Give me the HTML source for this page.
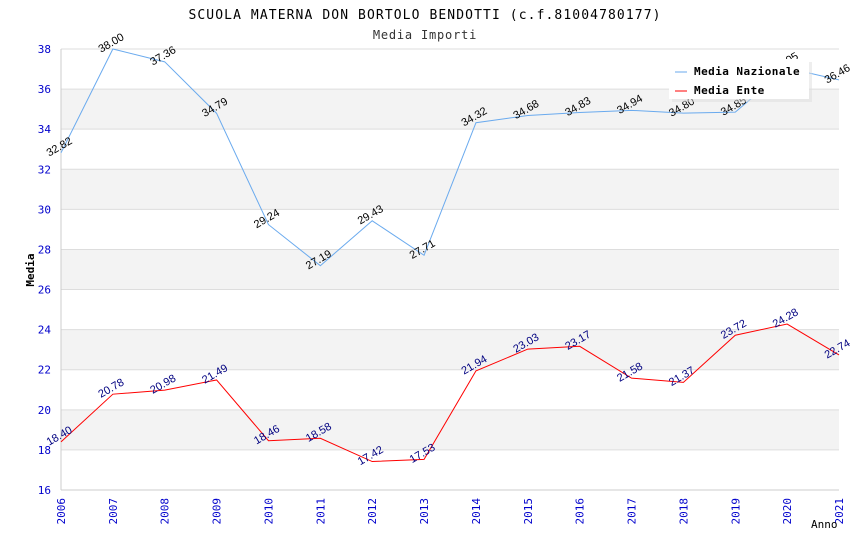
<!DOCTYPE html>
<html><head><meta charset="utf-8"><style>
body{margin:0;background:#fff;}
svg{display:block;font-family:"DejaVu Sans Mono","Liberation Mono",monospace;}
</style></head><body>
<svg id="chart" width="850" height="550" xmlns="http://www.w3.org/2000/svg">
<text x="425" y="19" text-anchor="middle" font-size="13" letter-spacing="1.1" fill="#000">SCUOLA MATERNA DON BORTOLO BENDOTTI (c.f.81004780177)</text>
<text x="425" y="39" text-anchor="middle" font-size="12" letter-spacing="0.8" fill="#333">Media Importi</text>
<g id="bands"></g><g id="grid"></g><g id="axes"></g><g id="series"></g><g id="labels"></g>
<text x="34" y="270" font-size="11" font-weight="bold" text-anchor="middle" transform="rotate(-90 34 270)">Media</text>
<text x="811" y="528" font-size="11">Anno</text>
<g>
<rect x="672" y="62" width="140" height="40" fill="#ddd" opacity="0.5"/>
<rect x="669" y="59" width="140" height="40" fill="#fff"/>
<g><line x1="675" y1="72" x2="687" y2="72" stroke="#6aaaee" stroke-width="1"/><text x="694" y="75" font-size="11" letter-spacing="0.45" font-weight="bold">Media Nazionale</text></g>
<g><line x1="675" y1="91" x2="687" y2="91" stroke="#ff0000" stroke-width="1"/><text x="694" y="94" font-size="11" letter-spacing="0.45" font-weight="bold">Media Ente</text></g>
</g>
</svg>
<script>
const years=[2006,2007,2008,2009,2010,2011,2012,2013,2014,2015,2016,2017,2018,2019,2020,2021];
const nazionale=[32.82,38.00,37.36,34.79,29.24,27.19,29.43,27.71,34.32,34.68,34.83,34.94,34.80,34.85,37.05,36.46];
const ente=[18.40,20.78,20.98,21.49,18.46,18.58,17.42,17.53,21.94,23.03,23.17,21.58,21.37,23.72,24.28,22.74];
const yTicks=[16,18,20,22,24,26,28,30,32,34,36,38];
const NS="http://www.w3.org/2000/svg";
const X0=61,X1=839,Y0=490,Y1=49,YMIN=16,YMAX=38;
function xs(i){return X0+(X1-X0)*i/(years.length-1);}
function ys(v){return Y0-(v-YMIN)/(YMAX-YMIN)*(Y0-Y1);}
function mk(tag,attrs,parent){const e=document.createElementNS(NS,tag);for(const k in attrs)e.setAttribute(k,attrs[k]);document.getElementById(parent).appendChild(e);return e;}
for(let i=0;i<yTicks.length-1;i++){
 if(i%2===1){const r=mk('rect',{x:X0,y:ys(yTicks[i+1]),width:X1-X0,height:ys(yTicks[i])-ys(yTicks[i+1]),fill:'#f3f3f3'},'bands');
 
 }
}
yTicks.forEach(t=>{
 const l=mk('line',{x1:X0,x2:X1,y1:ys(t),y2:ys(t),stroke:'#ddd','stroke-width':1},'grid');
 
 
 const tx=mk('text',{x:51,y:ys(t)+4,'text-anchor':'end','font-size':11,fill:'#0000cc'},'axes');
 
 
 tx.textContent=t;
});
mk('line',{x1:X0,x2:X0,y1:Y1,y2:Y0,stroke:'#ccc'},'axes');
mk('line',{x1:X0,x2:X1,y1:Y0,y2:Y0,stroke:'#ccc'},'axes');
years.forEach((yr,i)=>{
 const x=xs(i);
 const t=mk('text',{x:x+4,y:Y0+8,'text-anchor':'end','font-size':11,fill:'#0000cc',transform:`rotate(-90 ${x+4} ${Y0+8})`},'axes');
 
 
 t.textContent=yr;
});
function drawSeries(vals,color,labColor,name){
 const p=mk('polyline',{points:vals.map((v,i)=>xs(i)+','+ys(v)).join(' '),fill:'none',stroke:color,'stroke-width':1},'series');
 
 
 vals.forEach((v,i)=>{
  const x=xs(i),y=ys(v)-3;
  const t=mk('text',{x:x,y:y,'text-anchor':'middle','font-family':'Liberation Sans, sans-serif','font-size':11,fill:labColor,transform:`rotate(-30 ${x} ${y})`},'labels');
  
  
  t.textContent=v.toFixed(2);
 });
}
drawSeries(nazionale,'#6aaaee','#000','nazionale');
drawSeries(ente,'#ff0000','#000080','ente');
</script>
</body></html>
